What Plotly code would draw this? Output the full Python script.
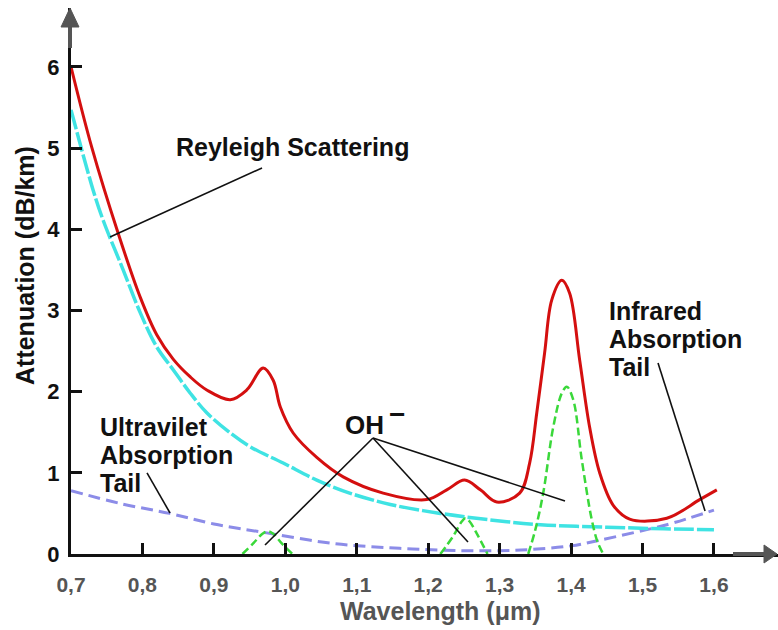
import plotly.graph_objects as go

# ---------------- data ----------------
total_x = [0.700, 0.729, 0.766, 0.797, 0.820, 0.843, 0.867, 0.890, 0.923, 0.946, 0.969,
           0.983, 0.993, 1.011, 1.044, 1.081, 1.137, 1.198, 1.226, 1.251, 1.273, 1.296, 1.328,
           1.342, 1.352, 1.363, 1.373, 1.387, 1.398, 1.412, 1.426, 1.440, 1.459, 1.482, 1.534,
           1.580, 1.604]
total_y = [6.00, 5.01, 3.95, 3.16, 2.70, 2.40, 2.18, 2.02, 1.90, 2.02, 2.29,
           2.14, 1.81, 1.49, 1.19, 0.95, 0.75, 0.67, 0.79, 0.91, 0.79, 0.64, 0.75,
           1.12, 1.74, 2.48, 3.13, 3.37, 3.21, 2.39, 1.56, 1.00, 0.60, 0.43, 0.44,
           0.67, 0.79]

rayleigh_x = [0.700, 0.731, 0.745, 0.773, 0.797, 0.820, 0.843, 0.867, 0.890, 0.923, 0.951,
              0.997, 1.044, 1.090, 1.147, 1.217, 1.287, 1.357, 1.450, 1.530, 1.600]
rayleigh_y = [5.47, 4.48, 4.11, 3.50, 2.97, 2.55, 2.27, 1.98, 1.74, 1.49, 1.32,
              1.12, 0.91, 0.75, 0.61, 0.50, 0.42, 0.36, 0.33, 0.31, 0.30]

tail_x = [0.700, 0.770, 0.838, 0.900, 0.974, 1.067, 1.160, 1.250, 1.330, 1.400, 1.440,
          1.506, 1.534, 1.600]
tail_y = [0.78, 0.62, 0.50, 0.37, 0.26, 0.13, 0.07, 0.04, 0.05, 0.10, 0.17,
          0.30, 0.36, 0.54]

oh_x = [0.940, 0.955, 0.968, 0.975, 0.983, 0.995, 1.010, None,
        1.217, 1.235, 1.247, 1.252, 1.258, 1.270, 1.283, None,
        1.340, 1.350, 1.361, 1.375, 1.387, 1.394, 1.403, 1.415, 1.429, 1.437, 1.445]
oh_y = [0.00, 0.13, 0.25, 0.28, 0.25, 0.13, 0.00, None,
        0.00, 0.22, 0.40, 0.44, 0.40, 0.22, 0.00, None,
        0.00, 0.30, 0.75, 1.56, 1.98, 2.06, 1.90, 1.16, 0.42, 0.15, 0.00]

x_ticks = [0.7, 0.8, 0.9, 1.0, 1.1, 1.2, 1.3, 1.4, 1.5, 1.6]
x_tick_labels = ["0,7", "0,8", "0,9", "1,0", "1,1", "1,2", "1,3", "1,4", "1,5", "1,6"]
y_ticks = [0, 1, 2, 3, 4, 5, 6]
y_tick_labels = ["0", "1", "2", "3", "4", "5", "6"]

# ---------------- figure ----------------
FONT = "Liberation Sans, Arial, Helvetica, sans-serif"
W, H = 778, 630
L, T = 71, 8
B = H - 554
PW, PH = W - L, H - T - B

fig = go.Figure()

fig.add_trace(go.Scatter(x=tail_x, y=tail_y, mode="lines", line_shape="spline",
                         line=dict(color="#8c8ce8", width=3, dash="12px,6px"), hoverinfo="skip"))
fig.add_trace(go.Scatter(x=rayleigh_x, y=rayleigh_y, mode="lines", line_shape="spline",
                         line=dict(color="#3fe3e3", width=3.5, dash="20px,3px"), hoverinfo="skip"))
fig.add_trace(go.Scatter(x=oh_x, y=oh_y, mode="lines", line_shape="spline", connectgaps=False,
                         line=dict(color="#3ad83a", width=2.5, dash="8px,4px"), hoverinfo="skip"))
fig.add_trace(go.Scatter(x=total_x, y=total_y, mode="lines", line_shape="spline",
                         line=dict(color="#d40f0f", width=3), hoverinfo="skip"))

# leader lines for the labels
leaders = [
    ((0.7546, 3.904), (0.9674, 4.754)),   # Rayleigh
    ((0.8064, 0.998), (0.8386, 0.505)),   # UV tail
    ((1.1227, 1.429), (0.9716, 0.111)),   # OH -> 0.97
    ((1.1227, 1.429), (1.2557, 0.148)),   # OH -> 1.25
    ((1.1227, 1.429), (1.3915, 0.653)),   # OH -> 1.39
    ((1.5217, 2.352), (1.5875, 0.530)),   # IR tail
]
for (x0, y0), (x1, y1) in leaders:
    fig.add_shape(type="line", xref="x", yref="y", x0=x0, y0=y0, x1=x1, y1=y1,
                  line=dict(color="#111111", width=1.6), layer="above")


def px2paper(px, py):
    return (px - L) / PW, (554 - py) / PH


# axis arrows (gray heads)
GRAY = "#555555"
ax0, _ = px2paper(733, 554)
ax1, _ = px2paper(764, 554)
tipx, _ = px2paper(777, 554)
_, hy0 = px2paper(0, 545)
_, hy1 = px2paper(0, 563)
fig.add_shape(type="line", xref="paper", yref="paper", x0=ax0, y0=0, x1=ax1, y1=0,
              line=dict(color=GRAY, width=4))
fig.add_shape(type="path", xref="paper", yref="paper",
              path=f"M {tipx:.4f} 0 L {ax1:.4f} {hy0:.4f} L {ax1:.4f} {hy1:.4f} Z",
              fillcolor=GRAY, line=dict(color=GRAY, width=1))
vx, _ = px2paper(70, 0)
vl, _ = px2paper(61, 0)
vr, _ = px2paper(79, 0)
_, vs0 = px2paper(0, 48)
_, vb = px2paper(0, 27)
_, vt = px2paper(0, 8)
fig.add_shape(type="line", xref="paper", yref="paper", x0=vx, y0=vs0, x1=vx, y1=vb,
              line=dict(color=GRAY, width=4))
fig.add_shape(type="path", xref="paper", yref="paper",
              path=f"M {vx:.4f} {vt:.4f} L {vl:.4f} {vb:.4f} L {vr:.4f} {vb:.4f} Z",
              fillcolor=GRAY, line=dict(color=GRAY, width=1))

TXT = dict(family=FONT, size=25, color="#111111", weight="bold")


def label(text, px, py, xanchor="left", font=TXT, angle=0):
    x, y = px2paper(px, py)
    fig.add_annotation(text=text, x=x, y=y, xref="paper", yref="paper", showarrow=False,
                       xanchor=xanchor, yanchor="middle", font=font, textangle=angle)


label("Reyleigh Scattering", 292, 147, xanchor="center")
label("Ultravilet", 98, 427)
label("Absorption", 98, 455)
label("Tail", 98, 483)
label("OH", 343, 425, font=dict(family=FONT, size=26, color="#111111", weight="bold"))
label("−", 397, 414, xanchor="center", font=dict(family=FONT, size=28, color="#111111", weight="bold"))
label("Infrared", 607, 311)
label("Absorption", 607, 339)
label("Tail", 607, 367)
label("Wavelength (μm)", 440, 611, xanchor="center",
      font=dict(family=FONT, size=25, color=GRAY, weight="bold"))
label("Attenuation (dB/km)", 25, 266, xanchor="center", angle=-90,
      font=dict(family=FONT, size=25, color="#111111", weight="bold"))

fig.update_layout(
    width=W, height=H,
    margin=dict(l=L, r=0, t=T, b=B, autoexpand=False),
    paper_bgcolor="white", plot_bgcolor="white",
    showlegend=False,
    xaxis=dict(range=[0.7, 0.7 + PW / 714.4], tickvals=x_ticks, ticktext=x_tick_labels,
               showgrid=False, zeroline=False, showline=True, linecolor="#111111", linewidth=3,
               ticks="inside", ticklen=11, tickwidth=3, tickcolor="#111111",
               tickfont=dict(family=FONT, size=21, color=GRAY, weight="bold"),
               ticklabelstandoff=10),
    yaxis=dict(range=[0, PH / 81.2], tickvals=y_ticks, ticktext=y_tick_labels,
               showgrid=False, zeroline=False, showline=True, linecolor="#111111", linewidth=3,
               ticks="inside", ticklen=11, tickwidth=3, tickcolor="#111111",
               tickfont=dict(family=FONT, size=22, color="#111111", weight="bold"),
               ticklabelstandoff=4),
)

fig.write_html("out.html",
               config={"displayModeBar": False},
               post_script="document.body.style.margin='0px';"
                           "document.documentElement.style.overflow='hidden';")
